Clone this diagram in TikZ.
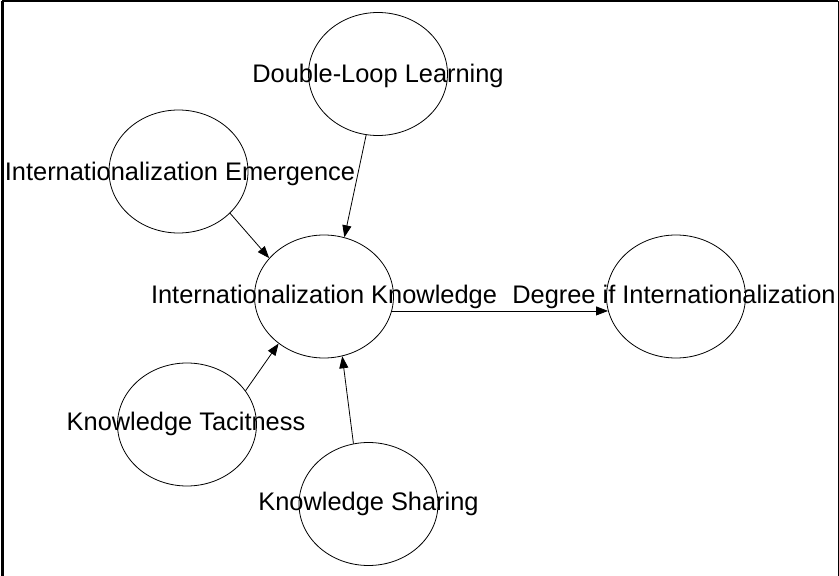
\documentclass[tikz,border=0pt]{standalone}
\usepackage{fontspec}
\setmainfont{Liberation Sans}
\usetikzlibrary{shapes.geometric,arrows.meta}
\begin{document}
\begin{tikzpicture}[x=1pt,y=-1pt,
  var/.style={draw, ellipse, minimum width=139pt, minimum height=123pt, inner sep=0pt, line width=0.8pt},
  lbl/.style={anchor=base, inner sep=0pt, font=\fontsize{25.4}{30}\selectfont},
  link/.style={line width=0.8pt, -{Triangle[length=12pt,width=9pt]}}]
\useasboundingbox (0,0) rectangle (839,576);
% frame
\coordinate (fbl) at (2,576);
\coordinate (ftl) at (2,1);
\coordinate (ftr) at (838,1);
\coordinate (fbr) at (838,576);
\draw[line width=3pt] (fbl) -- (ftl);
\draw[line width=1.6pt] (ftl) -- (ftr);
\draw[line width=1pt] (ftr) -- (fbr);
% ellipses
\node[var] (dl) at (378,74) {};
\node[var] (em) at (178.5,171.5) {};
\node[var] (ik) at (324,296.5) {};
\node[var] (deg) at (676,296.5) {};
\node[var] (tac) at (187,424.5) {};
\node[var] (sh) at (368.5,504) {};
% labels
\node[lbl] (dlt) at (378,82) {Double-Loop Learning};
\node[lbl] (emt) at (180,180) {Internationalization Emergence};
\node[lbl] (ikt) at (324,303.3) {Internationalization Knowledge};
\node[lbl] (degt) at (674,303.3) {Degree if Internationalization};
\node[lbl] (tact) at (186,430) {Knowledge Tacitness};
\node[lbl] (sht) at (368.5,510.7) {Knowledge Sharing};
% connectors
\draw[link] (dl.259) -- (ik.71);
\draw[link] (em.321) -- (ik.145);
\draw[link] (tac.30) -- (ik.226);
\draw[link] (sh.104) -- (ik.287);
\draw[link] (ik.-12) -- (deg.192);
\end{tikzpicture}
\end{document}
